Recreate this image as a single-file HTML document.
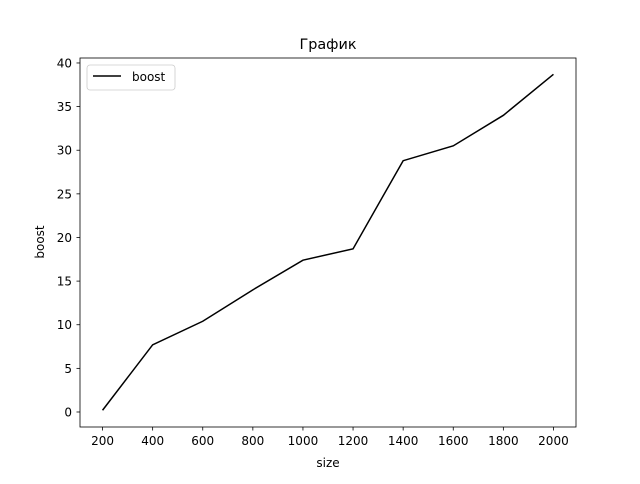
<!DOCTYPE html>
<html><head><meta charset="utf-8"><style>
body{margin:0;background:#fff;font-family:"DejaVu Sans","Liberation Sans",sans-serif;}
svg text{font-family:"DejaVu Sans","Liberation Sans",sans-serif;}
</style></head><body>
<svg id="chart" width="640" height="480" xmlns="http://www.w3.org/2000/svg">
<rect width="640" height="480" fill="#fff"/>
<text x="328" y="49" text-anchor="middle" font-size="14.4">График</text>
<g id="ticks"></g>
<path id="line" fill="none" stroke="#000" stroke-width="1.5"/>
<rect x="80" y="58" width="496" height="369" fill="none" stroke="#000" stroke-width="0.8"/>
<text x="328" y="467" text-anchor="middle" font-size="12">size</text>
<text transform="translate(44,242) rotate(-90)" text-anchor="middle" font-size="12">boost</text>
<g>
<rect x="87" y="65" width="88" height="25" rx="3" fill="#fff" stroke="#ccc" stroke-width="0.8"/>
<line x1="93" y1="76" x2="121" y2="76" stroke="#000" stroke-width="1.5"/>
<text x="132" y="81" font-size="12">boost</text>
</g>
</svg>
<script>
const sizes=[200,400,600,800,1000,1200,1400,1600,1800,2000];
const boost=[0.2,7.7,10.4,14.0,17.4,18.7,28.8,30.5,34.0,38.7];
const xTicks=[200,400,600,800,1000,1200,1400,1600,1800,2000];
const yTicks=[0,5,10,15,20,25,30,35,40];
const X0=110,X1=2090,Y0=-1.72,Y1=40.57;
function sx(v){return 80+(v-X0)/(X1-X0)*496;}
function sy(v){return 427-(v-Y0)/(Y1-Y0)*369;}
const NS="http://www.w3.org/2000/svg";
const g=document.getElementById('ticks');
xTicks.forEach(t=>{
 const l=document.createElementNS(NS,'line');
 l.setAttribute('x1',sx(t));l.setAttribute('x2',sx(t));l.setAttribute('y1',427);l.setAttribute('y2',430.5);l.setAttribute('stroke','#000');l.setAttribute('stroke-width','0.8');
 
 
 g.appendChild(l);
 const tx=document.createElementNS(NS,'text');
 tx.setAttribute('x',sx(t));tx.setAttribute('y',445);tx.setAttribute('text-anchor','middle');tx.setAttribute('font-size','12');tx.textContent=t;
 
 
 g.appendChild(tx);
});
yTicks.forEach(t=>{
 const l=document.createElementNS(NS,'line');
 l.setAttribute('x1',76.5);l.setAttribute('x2',80);l.setAttribute('y1',sy(t));l.setAttribute('y2',sy(t));l.setAttribute('stroke','#000');l.setAttribute('stroke-width','0.8');
 
 
 g.appendChild(l);
 const tx=document.createElementNS(NS,'text');
 tx.setAttribute('x',72);tx.setAttribute('y',sy(t)+4.5);tx.setAttribute('text-anchor','end');tx.setAttribute('font-size','12');tx.textContent=t;
 
 
 g.appendChild(tx);
});
document.getElementById('line').setAttribute('d',sizes.map((s,i)=>(i?'L':'M')+sx(s)+','+sy(boost[i])).join(' '));
</script>
</body></html>
